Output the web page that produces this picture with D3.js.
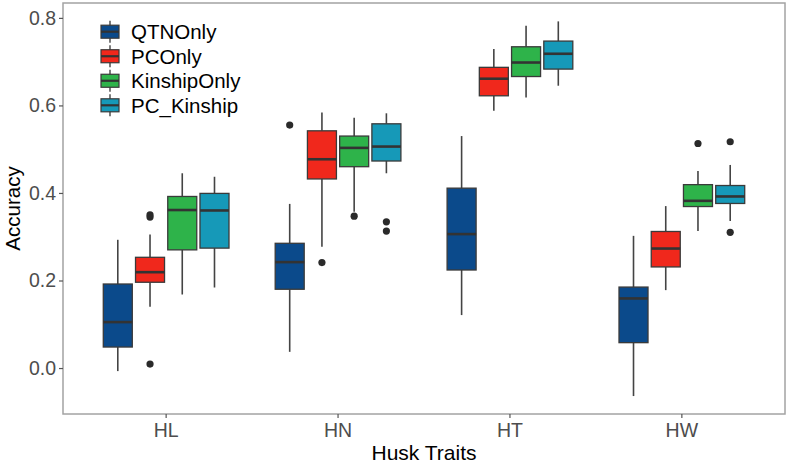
<!DOCTYPE html>
<html>
<head>
<meta charset="utf-8">
<script src="https://cdn.jsdelivr.net/npm/d3@7"></script>
<style>
  html, body { margin: 0; padding: 0; background: #fff; }
  svg { display: block; font-family: "Liberation Sans", Arial, Helvetica, sans-serif; }
</style>
</head>
<body>
<svg id="chart" width="789" height="464"></svg>
<script>
// ---- Data ----
const traits = ["HL", "HN", "HT", "HW"];
const models = ["QTNOnly", "PCOnly", "KinshipOnly", "PC_Kinship"];
const colors = ["#0b4a8b", "#f0281c", "#2eb34a", "#1699b8"];
const yTicks = [0.0, 0.2, 0.4, 0.6, 0.8];

// five-number summaries per trait: [lowerWhisker, Q1, median, Q3, upperWhisker]
const qtnOnly = [
  [-0.007, 0.048, 0.105, 0.192, 0.293],
  [0.037, 0.180, 0.242, 0.285, 0.375],
  [0.121, 0.224, 0.306, 0.411, 0.530],
  [-0.064, 0.058, 0.159, 0.185, 0.302]
];
const pcOnly = [
  [0.140, 0.196, 0.219, 0.253, 0.305],
  [0.277, 0.432, 0.477, 0.542, 0.584],
  [0.588, 0.622, 0.661, 0.687, 0.729],
  [0.178, 0.231, 0.273, 0.312, 0.370]
];
const kinshipOnly = [
  [0.168, 0.270, 0.361, 0.392, 0.445],
  [0.357, 0.460, 0.503, 0.530, 0.572],
  [0.618, 0.666, 0.698, 0.734, 0.782],
  [0.313, 0.369, 0.382, 0.419, 0.450]
];
const pcKinship = [
  [0.184, 0.274, 0.360, 0.399, 0.437],
  [0.445, 0.473, 0.506, 0.558, 0.582],
  [0.645, 0.683, 0.718, 0.747, 0.792],
  [0.336, 0.376, 0.392, 0.417, 0.464]
];
// outliers per trait
const qtnOnlyOutliers = [[], [0.555], [], []];
const pcOnlyOutliers = [[0.345, 0.350, 0.009], [0.241], [], []];
const kinshipOnlyOutliers = [[], [0.347], [], [0.513]];
const pcKinshipOutliers = [[], [0.334, 0.313], [], [0.517, 0.310]];

const summaries = [qtnOnly, pcOnly, kinshipOnly, pcKinship];
const outlierSets = [qtnOnlyOutliers, pcOnlyOutliers, kinshipOnlyOutliers, pcKinshipOutliers];

// ---- Layout ----
const panel = { left: 63, right: 785, top: 3, bottom: 414 };
const svg = d3.select("#chart");

const x = d3.scaleBand().domain(traits).range([panel.left, panel.right])
  .paddingInner(0).paddingOuter(0.1);
const dodge = x.step() * 0.75;
const x1 = d3.scaleBand().domain(models).range([-dodge / 2, dodge / 2]);
const boxW = x1.bandwidth() * 0.9;

const y = d3.scaleLinear().domain([-0.105, 0.834]).range([panel.bottom, panel.top]);

const rows = [];
models.forEach((m, mi) => {
  traits.forEach((t, ti) => {
    const s = summaries[mi][ti];
    rows.push({ model: m, trait: t, color: colors[mi], lo: s[0], q1: s[1], med: s[2], q3: s[3], hi: s[4], out: outlierSets[mi][ti] });
  });
});

const g = svg.append("g");
const boxes = g.selectAll("g.box").data(rows).join("g").attr("class", "box")
  .attr("transform", d => `translate(${x(d.trait) + x.bandwidth() / 2 + x1(d.model) + x1.bandwidth() / 2},0)`);

// whiskers
boxes.append("line").attr("x1", 0).attr("x2", 0)
  .attr("y1", d => y(d.hi)).attr("y2", d => y(d.q3))
  .attr("stroke", "#444").attr("stroke-width", 1.6);
boxes.append("line").attr("x1", 0).attr("x2", 0)
  .attr("y1", d => y(d.q1)).attr("y2", d => y(d.lo))
  .attr("stroke", "#444").attr("stroke-width", 1.6);
// box
boxes.append("rect")
  .attr("x", -boxW / 2).attr("width", boxW)
  .attr("y", d => y(d.q3)).attr("height", d => y(d.q1) - y(d.q3))
  .attr("fill", d => d.color).attr("stroke", "#3a3a3a").attr("stroke-width", 1.3);
// median
boxes.append("line")
  .attr("x1", -boxW / 2).attr("x2", boxW / 2)
  .attr("y1", d => y(d.med)).attr("y2", d => y(d.med))
  .attr("stroke", "#333").attr("stroke-width", 2.6);
// outliers
boxes.selectAll("circle").data(d => d.out).join("circle")
  .attr("cx", 0).attr("cy", v => y(v)).attr("r", 3.6).attr("fill", "#2a2a2a");

// panel border
svg.append("rect")
  .attr("x", panel.left).attr("y", panel.top)
  .attr("width", panel.right - panel.left).attr("height", panel.bottom - panel.top)
  .attr("fill", "none").attr("stroke", "#a3a3a3").attr("stroke-width", 1.5);

// axes
const yAxis = svg.append("g").attr("transform", `translate(${panel.left},0)`)
  .call(d3.axisLeft(y).tickValues(yTicks).tickFormat(d3.format(".1f")).tickSize(4).tickPadding(3));
const xAxis = svg.append("g").attr("transform", `translate(0,${panel.bottom})`)
  .call(d3.axisBottom(x).tickSize(4).tickPadding(5));
[yAxis, xAxis].forEach(a => {
  a.select(".domain").remove();
  a.selectAll(".tick line").attr("stroke", "#555").attr("stroke-width", 1.2);
  a.selectAll(".tick text").attr("fill", "#4d4d4d").style("font-size", "19.5px")
    .style("font-family", "'Liberation Sans', Arial, sans-serif");
});

// axis titles
svg.append("text").attr("x", (panel.left + panel.right) / 2).attr("y", 460)
  .attr("text-anchor", "middle").style("font-size", "21px").attr("fill", "#000")
  .text("Husk Traits");
svg.append("text").attr("transform", `translate(20,${(panel.top + panel.bottom) / 2}) rotate(-90)`)
  .attr("text-anchor", "middle").style("font-size", "20.5px").attr("fill", "#000")
  .text("Accuracy");

// legend
const legend = svg.append("g");
const rowY = d3.scalePoint().domain(models).range([31.7, 105.3]);
const li = legend.selectAll("g").data(models).join("g")
  .attr("transform", m => `translate(110,${rowY(m)})`);
li.append("line").attr("y1", -11).attr("y2", 11).attr("stroke", "#444").attr("stroke-width", 1.4);
li.append("rect").attr("x", -9).attr("y", -6.5).attr("width", 18).attr("height", 13)
  .attr("fill", (m, i) => colors[i]).attr("stroke", "#3a3a3a").attr("stroke-width", 1.2);
li.append("line").attr("x1", -9).attr("x2", 9).attr("stroke", "#333").attr("stroke-width", 2.2);
li.append("text").attr("x", 21).attr("dy", "0.36em").style("font-size", "20.5px").attr("fill", "#000")
  .text(m => m);
</script>
</body>
</html>
